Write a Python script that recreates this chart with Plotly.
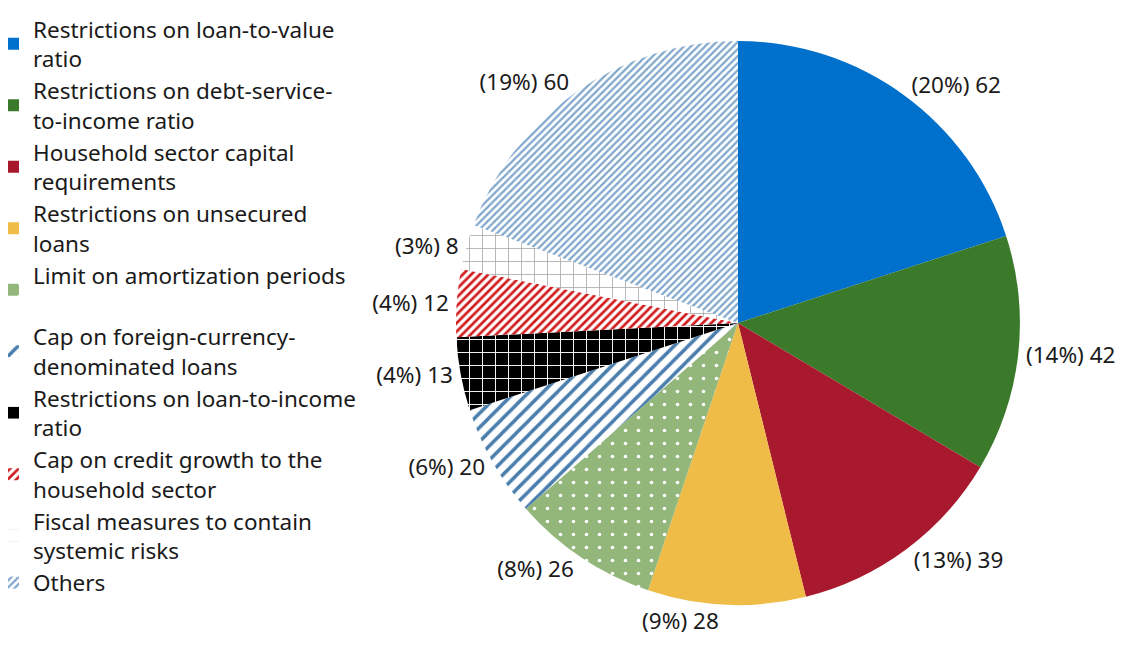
import plotly.graph_objects as go

categories = [
    "Restrictions on loan-to-value<br>ratio",
    "Restrictions on debt-service-<br>to-income ratio",
    "Household sector capital<br>requirements",
    "Restrictions on unsecured<br>loans",
    "Limit on amortization periods<br> ",
    "Cap on foreign-currency-<br>denominated loans",
    "Restrictions on loan-to-income<br>ratio",
    "Cap on credit growth to the<br>household sector",
    "Fiscal measures to contain<br>systemic risks",
    "Others",
]
counts = [62, 42, 39, 28, 26, 20, 13, 12, 8, 60]

bg_colors = ["#0070CD", "#3A7A2A", "#A8192E", "#F0BC48", "#93B77A",
             "white", "black", "white", "white", "white"]
fg_colors = ["#0070CD", "#3A7A2A", "#A8192E", "#F0BC48", "white",
             "#4A7EAD", "white", "#D01C1C", "#A8A8A8", "#7FA6CC"]
shapes = ["", "", "", "", ".", "/", "+", "/", "+", "/"]
sizes = [8, 8, 8, 8, 13, 10, 13, 6, 13, 5]
solidity = [0.3, 0.3, 0.3, 0.3, 0.06, 0.35, 0.14, 0.45, 0.12, 0.45]

total = sum(counts)
labels_text = [f"({round(100 * v / total)}%) {v}" for v in counts]

fig = go.Figure()
fig.add_trace(go.Pie(
    labels=categories,
    values=counts,
    text=labels_text,
    textinfo="text",
    textposition="outside",
    sort=False,
    direction="clockwise",
    rotation=0,
    marker=dict(
        colors=bg_colors,
        line=dict(color="white", width=0),
        pattern=dict(shape=shapes, fgcolor=fg_colors, bgcolor=bg_colors,
                     size=sizes, solidity=solidity, fillmode="replace"),
    ),
    outsidetextfont=dict(size=22.5, color="#1a1a1a", family="Noto Sans"),
    domain=dict(x=[0.394, 0.890], y=[0.0843, 0.9494]),
    hoverinfo="label+value+percent",
))

fig.update_layout(
    width=1137,
    height=652,
    margin=dict(l=0, r=0, t=0, b=0),
    paper_bgcolor="white",
    font=dict(family="Noto Sans", size=22.5, color="#1a1a1a"),
    showlegend=True,
    legend=dict(x=0, y=1, xanchor="left", yanchor="top",
                font=dict(size=22.5), tracegroupgap=0, itemwidth=30,
                indentation=-15, maxheight=700),
)

fig.write_html("out.html")
